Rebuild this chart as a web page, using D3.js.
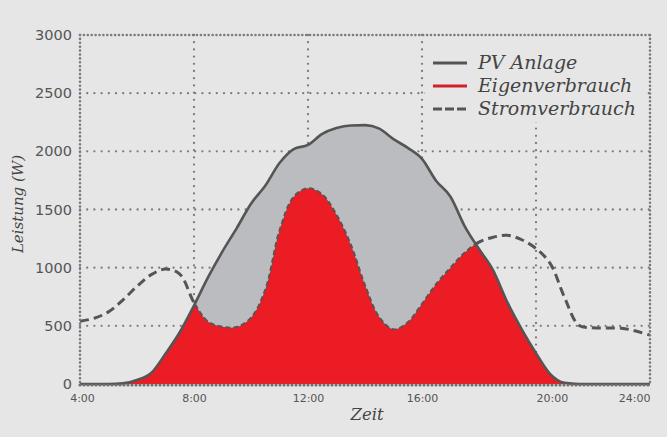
<!DOCTYPE html>
<html>
<head>
<meta charset="utf-8">
<script src="https://cdn.jsdelivr.net/npm/d3@7"></script>
<style>
  html, body { margin: 0; padding: 0; background: #e6e6e6; }
  svg { display: block; }
</style>
</head>
<body>
<svg id="chart" width="667" height="437"></svg>
<script>
// ---- data ----
const hours = [4,4.5,5,5.5,6,6.5,7,7.5,8,8.5,9,9.5,10,10.5,11,11.5,12,12.5,13,13.5,14,14.5,15,15.5,16,16.5,17,17.5,18,18.5,19,19.5,20,20.5,21,21.5,22,22.5,23,23.5,24];
const pvAnlage = [0,0,0,5,35,95,260,445,675,920,1140,1340,1550,1705,1900,2020,2055,2150,2200,2222,2225,2195,2105,2030,1935,1745,1610,1355,1160,975,700,470,265,85,10,0,0,0,0,0,0];
const stromverbrauch = [540,565,620,720,840,940,988,945,700,535,492,490,570,810,1320,1610,1682,1630,1455,1200,850,575,470,530,690,860,1000,1130,1220,1262,1278,1240,1165,1035,745,505,483,481,480,455,420];
const xTicks = [4,8,12,16,20,24];
const xTickLabels = ["4:00","8:00","12:00","16:00","20:00","24:00"];
const yTicks = [0,500,1000,1500,2000,2500,3000];
const legendLabels = ["PV Anlage","Eigenverbrauch","Stromverbrauch"];

// ---- setup ----
const svg = d3.select("#chart");
const W = 667, H = 437;
const x = d3.scaleLinear().domain([4,24]).range([80,650]);
const y = d3.scaleLinear().domain([0,3000]).range([384,35]);
const ink = "#555555";
const dotCol = "#7b7b7b";

svg.append("rect").attr("width",W).attr("height",H).attr("fill","#e6e6e6");

const pvData = hours.map((h,i)=>({h, v:pvAnlage[i]}));
const cData = hours.map((h,i)=>({h, v:stromverbrauch[i]}));
const pvCurve = d3.curveMonotoneX;
const cCurve = d3.curveCatmullRom.alpha(0.5);

// ---- inner grid ----
const grid = svg.append("g");
grid.selectAll("line.h").data(yTicks.filter(t=>t>0 && t<3000)).join("line")
  .attr("x1",x(4)).attr("x2",x(24)).attr("y1",d=>y(d)).attr("y2",d=>y(d))
  .attr("stroke",dotCol).attr("stroke-width",2.3).attr("stroke-linecap","round")
  .attr("stroke-dasharray","0 7.2");
grid.selectAll("line.v").data(xTicks.filter(t=>t>4 && t<24)).join("line")
  .attr("x1",d=>x(d)).attr("x2",d=>x(d)).attr("y1",y(3000)).attr("y2",y(0))
  .attr("stroke",dotCol).attr("stroke-width",2.3).attr("stroke-linecap","round")
  .attr("stroke-dasharray","0 7.2");

// ---- areas ----
const pvArea = d3.area().x(d=>x(d.h)).y0(y(0)).y1(d=>y(d.v)).curve(pvCurve);
const aboveArea = d3.area().x(d=>x(d.h)).y0(0).y1(d=>y(d.v)).curve(pvCurve);
const cArea = d3.area().x(d=>x(d.h)).y0(y(0)).y1(d=>y(d.v)).curve(cCurve);
const pvLine = d3.line().x(d=>x(d.h)).y(d=>y(d.v)).curve(pvCurve);
const cLine = d3.line().x(d=>x(d.h)).y(d=>y(d.v)).curve(cCurve);

const defs = svg.append("defs");
defs.append("clipPath").attr("id","clipPV").append("path").attr("d", pvArea(pvData));
defs.append("clipPath").attr("id","clipAbove").append("path").attr("d", aboveArea(pvData));

svg.append("path").attr("d", pvArea(pvData)).attr("fill","#bbbcbf");
svg.append("path").attr("d", cArea(cData)).attr("fill","#ec1c24").attr("clip-path","url(#clipPV)");

// consumption line: thin dashed inside PV area, thick dashed outside
svg.append("path").attr("d", cLine(cData)).attr("fill","none")
  .attr("stroke",ink).attr("stroke-width",2).attr("stroke-dasharray","5 3")
  .attr("clip-path","url(#clipPV)");
svg.append("path").attr("d", cLine(cData)).attr("fill","none")
  .attr("stroke",ink).attr("stroke-width",3).attr("stroke-dasharray","9 5")
  .attr("clip-path","url(#clipAbove)");

// PV line
svg.append("path").attr("d", pvLine(pvData)).attr("fill","none")
  .attr("stroke",ink).attr("stroke-width",2.6).attr("stroke-linejoin","round");

// ---- border ----
const border = svg.append("g");
[[x(4),y(3000),x(24),y(3000)],[x(24),y(3000),x(24),y(0)],[x(4),y(3000),x(4),y(0)]].forEach(s=>{
  border.append("line").attr("x1",s[0]).attr("y1",s[1]).attr("x2",s[2]).attr("y2",s[3])
    .attr("stroke",dotCol).attr("stroke-width",2.6).attr("stroke-linecap","round")
    .attr("stroke-dasharray","0 3.9");
});
border.append("line").attr("x1",x(4)).attr("y1",y(0)+1).attr("x2",x(24)).attr("y2",y(0)+1)
  .attr("stroke","#6f6f6f").attr("stroke-width",3.2).attr("stroke-linecap","round")
  .attr("stroke-dasharray","0 4");

// ---- axes labels ----
const yAxis = d3.axisLeft(y).tickValues(yTicks).tickFormat(d3.format("d")).tickSize(0).tickPadding(8);
const gy = svg.append("g").attr("transform",`translate(${x(4)},0)`).call(yAxis);
gy.select(".domain").remove();
gy.selectAll("text").attr("font-family","DejaVu Sans").attr("font-size",14.5).attr("fill",ink);

const xAxis = d3.axisBottom(x).tickValues(xTicks).tickFormat((d,i)=>xTickLabels[i]).tickSize(0).tickPadding(10);
const gx = svg.append("g").attr("transform",`translate(0,${y(0)})`).call(xAxis);
gx.select(".domain").remove();
gx.selectAll("text").attr("font-family","DejaVu Sans").attr("font-size",11).attr("fill",ink)
  .attr("text-anchor",(d)=> d===20 ? "start" : d===24 ? "end" : "middle")
  .attr("dx",(d)=> d===4 ? 2 : 0);

svg.append("text").attr("x",367).attr("y",420).attr("text-anchor","middle")
  .attr("font-family","DejaVu Serif").attr("font-style","italic").attr("font-size",16.5)
  .attr("fill","#444").text("Zeit");
svg.append("text").attr("transform","translate(23,204) rotate(-90)").attr("text-anchor","middle")
  .attr("font-family","DejaVu Serif").attr("font-style","italic").attr("font-size",15)
  .attr("fill","#444").text("Leistung (W)");

// ---- legend ----
const lg = svg.append("g");
lg.append("rect").attr("x",425).attr("y",38).attr("width",222).attr("height",84).attr("fill","#e6e6e6");
const rowsY = [63,86,109];
const styles = [
  {stroke:ink, dash:null},
  {stroke:"#d0202c", dash:null},
  {stroke:ink, dash:"9 3"}
];
legendLabels.forEach((t,i)=>{
  lg.append("line").attr("x1",433).attr("x2",467).attr("y1",rowsY[i]).attr("y2",rowsY[i])
    .attr("stroke",styles[i].stroke).attr("stroke-width",3.2)
    .attr("stroke-dasharray",styles[i].dash);
  lg.append("text").attr("x",478).attr("y",rowsY[i]+6)
    .attr("font-family","DejaVu Serif").attr("font-style","italic").attr("font-size",19)
    .attr("fill","#444").text(t);
});
</script>
</body>
</html>
